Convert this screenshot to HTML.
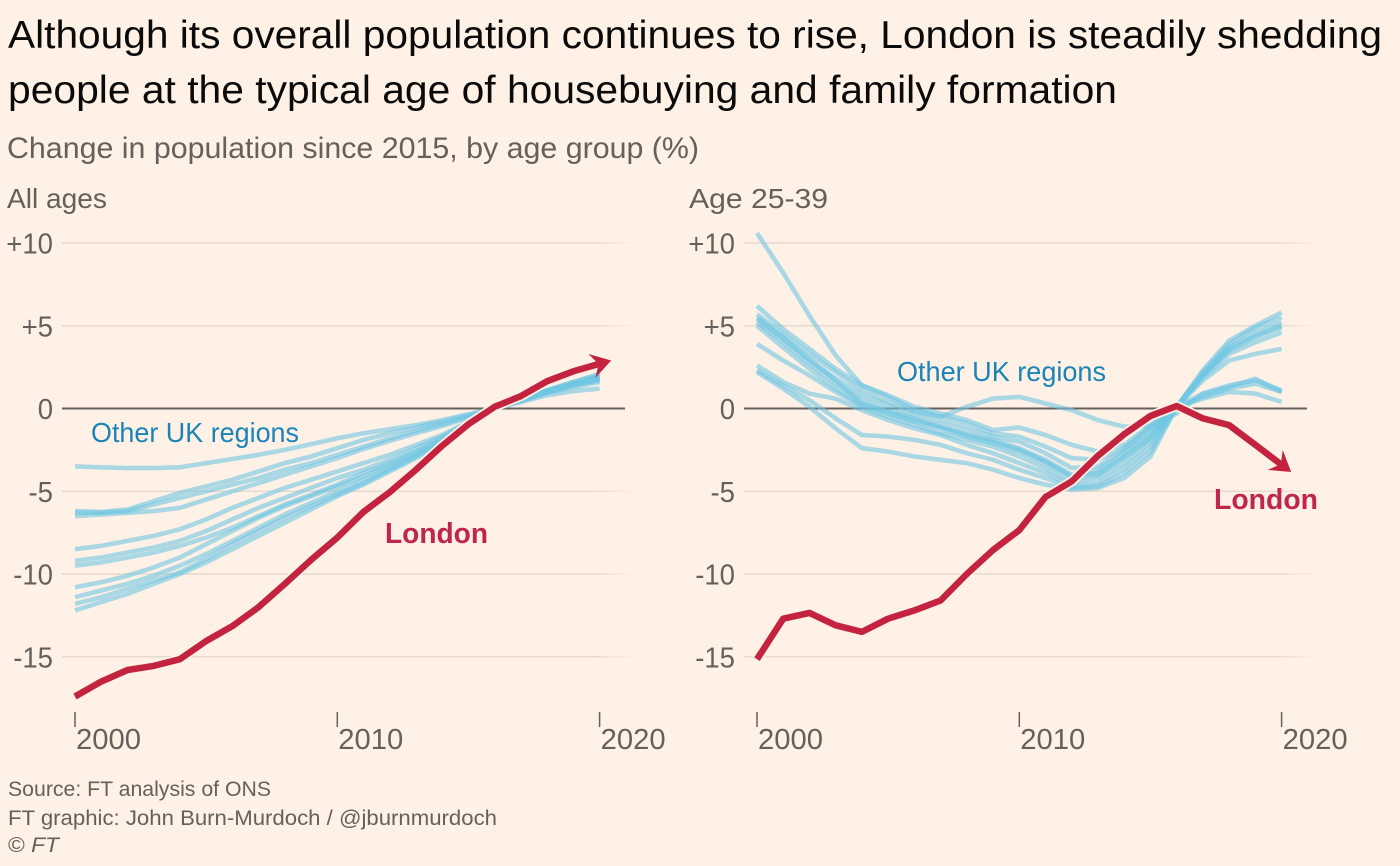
<!DOCTYPE html>
<html lang="en">
<head>
<meta charset="utf-8">
<title>London population change by age group</title>
<style>
html,body{margin:0;padding:0;background:#fff1e5;}
svg{display:block;font-family:"Liberation Sans",sans-serif;}
</style>
</head>
<body>
<svg id="chart" width="1400" height="866" viewBox="0 0 1400 866" xmlns="http://www.w3.org/2000/svg">
  <defs>
    <linearGradient id="grid-fade" x1="0" y1="0" x2="1" y2="0">
      <stop offset="0" stop-color="#e7dbd0"/>
      <stop offset="0.93" stop-color="#e7dbd0"/>
      <stop offset="1" stop-color="#fff1e5"/>
    </linearGradient>
  </defs>
  <rect width="1400" height="866" fill="#fff1e5"/>
  <text x="8" y="48" font-size="39" fill="#0a0a0a" textLength="1374" lengthAdjust="spacingAndGlyphs">Although its overall population continues to rise, London is steadily shedding</text>
  <text x="8" y="103" font-size="39" fill="#0a0a0a" textLength="1109" lengthAdjust="spacingAndGlyphs">people at the typical age of housebuying and family formation</text>
  <text x="7" y="158" font-size="30" fill="#66605c" textLength="692" lengthAdjust="spacingAndGlyphs">Change in population since 2015, by age group (%)</text>
  <text x="7" y="208" font-size="28" fill="#66605c" textLength="100" lengthAdjust="spacingAndGlyphs">All ages</text>
  <text x="689" y="208" font-size="28" fill="#66605c" textLength="139" lengthAdjust="spacingAndGlyphs">Age 25-39</text>
  <g id="panel-left"></g>
  <g id="panel-right"></g>
  <text x="91" y="442" font-size="28" fill="#1a84b8" textLength="208" lengthAdjust="spacingAndGlyphs">Other UK regions</text>
  <text x="897" y="381" font-size="28" fill="#1a84b8" textLength="209" lengthAdjust="spacingAndGlyphs">Other UK regions</text>
  <text x="385" y="543" font-size="29" font-weight="700" fill="#c0264a" textLength="103" lengthAdjust="spacingAndGlyphs">London</text>
  <text x="1214" y="509" font-size="29" font-weight="700" fill="#c0264a" textLength="104" lengthAdjust="spacingAndGlyphs">London</text>
  <text x="8" y="796" font-size="21.5" fill="#66605c" textLength="263" lengthAdjust="spacingAndGlyphs">Source: FT analysis of ONS</text>
  <text x="8" y="825" font-size="21.5" fill="#66605c" textLength="489" lengthAdjust="spacingAndGlyphs">FT graphic: John Burn-Murdoch / @jburnmurdoch</text>
  <text x="8" y="852" font-size="21.5" fill="#66605c" textLength="51" lengthAdjust="spacingAndGlyphs">© <tspan font-style="italic">FT</tspan></text>
</svg>
<script>
const years = [2000,2001,2002,2003,2004,2005,2006,2007,2008,2009,2010,2011,2012,2013,2014,2015,2016,2017,2018,2019,2020];
const yTicks = [10,5,0,-5,-10,-15];
const yTickLabels = ["+10","+5","0","-5","-10","-15"];
const xTicks = [2000,2010,2020];
const xTickLabels = ["2000","2010","2020"];

const londonAllAges = [-17.4,-16.5,-15.8,-15.55,-15.15,-14.05,-13.15,-12.0,-10.6,-9.15,-7.8,-6.25,-5.05,-3.7,-2.25,-0.95,0.1,0.75,1.65,2.25,2.7];
const londonAge2539 = [-15.15,-12.7,-12.35,-13.1,-13.5,-12.7,-12.2,-11.6,-10.0,-8.55,-7.35,-5.35,-4.4,-2.85,-1.55,-0.45,0.15,-0.6,-1.0,-2.2,-3.4];

const regionsAllAges = [
  [-3.5,-3.55,-3.6,-3.6,-3.55,-3.3,-3.05,-2.8,-2.5,-2.15,-1.8,-1.5,-1.25,-1.0,-0.7,-0.35,0,0.4,0.8,1.05,1.2],
  [-6.2,-6.25,-6.1,-5.6,-5.1,-4.7,-4.3,-3.8,-3.3,-2.9,-2.4,-1.9,-1.5,-1.15,-0.8,-0.4,0,0.5,1.0,1.45,1.9],
  [-6.3,-6.3,-6.2,-5.8,-5.4,-5.0,-4.6,-4.2,-3.7,-3.3,-2.8,-2.3,-1.8,-1.35,-0.95,-0.5,0,0.5,1.05,1.5,2.0],
  [-6.5,-6.4,-6.3,-6.2,-6.0,-5.5,-5.0,-4.5,-4.0,-3.5,-3.0,-2.45,-1.95,-1.5,-1.05,-0.55,0,0.55,1.1,1.6,2.1],
  [-8.5,-8.3,-8.0,-7.7,-7.3,-6.7,-6.0,-5.4,-4.8,-4.3,-3.8,-3.3,-2.8,-2.2,-1.6,-0.8,0,0.55,1.1,1.5,1.9],
  [-9.2,-9.0,-8.7,-8.4,-8.0,-7.4,-6.7,-6.0,-5.4,-4.8,-4.2,-3.7,-3.1,-2.4,-1.7,-0.85,0,0.5,1.1,1.6,2.0],
  [-9.5,-9.3,-9.0,-8.7,-8.3,-7.8,-7.2,-6.5,-5.8,-5.2,-4.6,-3.9,-3.3,-2.6,-1.8,-0.9,0,0.5,1.05,1.5,1.85],
  [-10.8,-10.5,-10.1,-9.6,-9.0,-8.2,-7.4,-6.6,-5.9,-5.3,-4.7,-4.1,-3.4,-2.7,-1.9,-1.0,0,0.45,1.0,1.5,1.8],
  [-11.4,-11.0,-10.6,-10.1,-9.5,-8.8,-8.0,-7.2,-6.4,-5.7,-5.0,-4.3,-3.6,-2.8,-2.0,-1.0,0,0.5,1.0,1.4,1.7],
  [-11.8,-11.4,-10.9,-10.4,-9.9,-9.1,-8.2,-7.4,-6.6,-5.9,-5.2,-4.5,-3.7,-2.9,-2.0,-1.05,0,0.45,0.95,1.4,1.75],
  [-12.2,-11.7,-11.2,-10.6,-10.0,-9.3,-8.5,-7.7,-6.9,-6.1,-5.3,-4.6,-3.8,-3.0,-2.1,-1.05,0,0.5,0.95,1.3,1.6]
];

const regionsAge2539 = [
  [10.6,8.2,5.6,3.2,1.4,0.7,-0.1,-0.5,0.1,0.6,0.7,0.3,-0.1,-0.7,-1.1,-1.05,-0.3,0.9,1.4,1.7,1.1],
  [6.2,4.8,3.6,2.4,1.4,0.8,0.1,-0.3,-0.7,-1.3,-1.15,-1.6,-2.2,-2.6,-2.2,-1.0,0.1,2.3,4.1,5.0,5.8],
  [5.7,4.5,3.3,2.2,1.1,0.4,-0.2,-0.5,-0.9,-1.5,-1.7,-2.3,-3.0,-3.1,-2.4,-1.1,0.1,2.2,3.9,4.9,5.5],
  [5.4,4.2,2.9,1.8,0.8,0.2,-0.4,-0.8,-1.2,-1.7,-2.0,-2.7,-3.6,-3.5,-2.5,-1.3,0.1,2.1,3.7,4.6,5.2],
  [5.2,4.0,2.7,1.5,0.5,-0.1,-0.6,-1.1,-1.5,-1.9,-2.4,-3.1,-4.0,-3.7,-2.7,-1.5,0.1,2.0,3.6,4.4,5.0],
  [5.0,3.7,2.4,1.2,0.2,-0.3,-0.8,-1.2,-1.7,-2.1,-2.6,-3.3,-4.2,-4.0,-3.0,-1.8,0.1,1.9,3.3,4.0,4.6],
  [3.9,2.9,2.0,1.0,0.1,-0.5,-1.0,-1.5,-1.9,-2.3,-2.9,-3.6,-4.5,-4.2,-3.3,-2.0,0.1,1.7,2.9,3.3,3.6],
  [2.6,1.6,0.9,0.6,-0.1,-0.7,-1.2,-1.6,-2.2,-2.7,-3.3,-3.9,-4.7,-4.5,-3.6,-2.3,0.1,0.9,1.3,1.8,1.0],
  [2.3,1.4,0.5,-0.6,-1.6,-1.7,-1.9,-2.2,-2.7,-3.1,-3.7,-4.2,-4.8,-4.7,-3.9,-2.6,0.1,0.7,1.2,1.5,1.0],
  [2.2,1.2,0.1,-1.2,-2.4,-2.6,-2.9,-3.1,-3.3,-3.7,-4.2,-4.6,-4.9,-4.8,-4.2,-2.9,0.1,0.6,1.0,0.9,0.4],
  [5.5,4.3,3.0,1.7,0.3,-0.2,-0.7,-1.1,-1.6,-2.0,-2.5,-3.2,-4.1,-3.9,-2.9,-1.7,0.1,2.0,3.5,4.3,4.9]
];

const SVG_NS = "http://www.w3.org/2000/svg";

function yScale(v) {
  return 408.5 - v * 16.55;
}
function makeXScale(origin) {
  return function (year) {
    return origin + (year - 2000) * 26.23;
  };
}
function linePath(xFn, series) {
  return series.map(function (v, i) {
    return (i ? "L" : "M") + xFn(years[i]).toFixed(1) + " " + yScale(v).toFixed(1);
  }).join("");
}

function drawPanel(rootId, origin, londonSeries, regionSeries) {
  const root = document.getElementById(rootId);
  const x = makeXScale(origin);
  const gridLeft = origin - 13;
  const gridWidth = 563;

  yTicks.forEach(function (tick, i) {
    if (tick === 0) {
      return;
    }
    const grid = document.createElementNS(SVG_NS, "rect");
    
    
    grid.setAttribute("x", gridLeft);
    grid.setAttribute("y", yScale(tick) - 0.8);
    grid.setAttribute("width", gridWidth + 12);
    grid.setAttribute("height", 1.6);
    grid.setAttribute("fill", "url(#grid-fade)");
    root.appendChild(grid);
  });

  yTicks.forEach(function (tick, i) {
    const label = document.createElementNS(SVG_NS, "text");
    
    
    label.setAttribute("x", origin - 22);
    label.setAttribute("y", yScale(tick) + 10.5);
    label.setAttribute("text-anchor", "end");
    label.setAttribute("font-size", "29");
    label.setAttribute("fill", "#66605c");
    label.textContent = yTickLabels[i];
    root.appendChild(label);
    label.setAttribute("textLength", (label.getComputedTextLength() * 0.95).toFixed(1));
    label.setAttribute("lengthAdjust", "spacingAndGlyphs");
  });

  const zero = document.createElementNS(SVG_NS, "line");
  
  
  zero.setAttribute("x1", gridLeft);
  zero.setAttribute("x2", gridLeft + gridWidth);
  zero.setAttribute("y1", yScale(0));
  zero.setAttribute("y2", yScale(0));
  zero.setAttribute("stroke", "#66605c");
  zero.setAttribute("stroke-width", "2");
  root.appendChild(zero);

  xTicks.forEach(function (tick, i) {
    const mark = document.createElementNS(SVG_NS, "line");
    
    
    mark.setAttribute("x1", x(tick));
    mark.setAttribute("x2", x(tick));
    mark.setAttribute("y1", 712);
    mark.setAttribute("y2", 727);
    mark.setAttribute("stroke", "#66605c");
    mark.setAttribute("stroke-width", "1.5");
    root.appendChild(mark);

    const label = document.createElementNS(SVG_NS, "text");
    
    
    label.setAttribute("x", x(tick) + 1);
    label.setAttribute("y", 749);
    label.setAttribute("font-size", "29");
    label.setAttribute("fill", "#66605c");
    label.setAttribute("textLength", "65");
    label.setAttribute("lengthAdjust", "spacingAndGlyphs");
    label.textContent = xTickLabels[i];
    root.appendChild(label);
  });

  regionSeries.forEach(function (series) {
    const region = document.createElementNS(SVG_NS, "path");
    
    
    region.setAttribute("d", linePath(x, series));
    region.setAttribute("fill", "none");
    region.setAttribute("stroke", "#6fc6e3");
    region.setAttribute("stroke-opacity", "0.6");
    region.setAttribute("stroke-width", "4.6");
    region.setAttribute("stroke-linejoin", "round");
    root.appendChild(region);
  });

  const halo = document.createElementNS(SVG_NS, "path");
  
  
  halo.setAttribute("d", linePath(x, londonSeries));
  halo.setAttribute("fill", "none");
  halo.setAttribute("stroke", "#fff1e5");
  halo.setAttribute("stroke-width", "10");
  halo.setAttribute("stroke-linejoin", "round");
  root.appendChild(halo);

  const n = londonSeries.length - 1;
  const x0 = x(years[n - 1]);
  const y0 = yScale(londonSeries[n - 1]);
  const x1 = x(years[n]);
  const y1 = yScale(londonSeries[n]);
  const len = Math.hypot(x1 - x0, y1 - y0);
  const ux = (x1 - x0) / len;
  const uy = (y1 - y0) / len;
  const tipX = x1 + ux * 12;
  const tipY = y1 + uy * 12;
  const neckX = tipX - ux * 13;
  const neckY = tipY - uy * 13;

  const london = document.createElementNS(SVG_NS, "path");
  
  
  london.setAttribute("d", linePath(x, londonSeries) + "L" + neckX.toFixed(1) + " " + neckY.toFixed(1));
  london.setAttribute("fill", "none");
  london.setAttribute("stroke", "#c4233f");
  london.setAttribute("stroke-width", "6.5");
  london.setAttribute("stroke-linejoin", "round");
  root.appendChild(london);

  const backX = tipX - ux * 20;
  const backY = tipY - uy * 20;
  const head = document.createElementNS(SVG_NS, "polygon");
  
  
  head.setAttribute("points", [
    tipX + "," + tipY,
    (backX - uy * 12.5) + "," + (backY + ux * 12.5),
    neckX + "," + neckY,
    (backX + uy * 12.5) + "," + (backY - ux * 12.5)
  ].join(" "));
  head.setAttribute("fill", "#c4233f");
  root.appendChild(head);
}

drawPanel("panel-left", 75, londonAllAges, regionsAllAges);
drawPanel("panel-right", 757, londonAge2539, regionsAge2539);
</script>
</body>
</html>
